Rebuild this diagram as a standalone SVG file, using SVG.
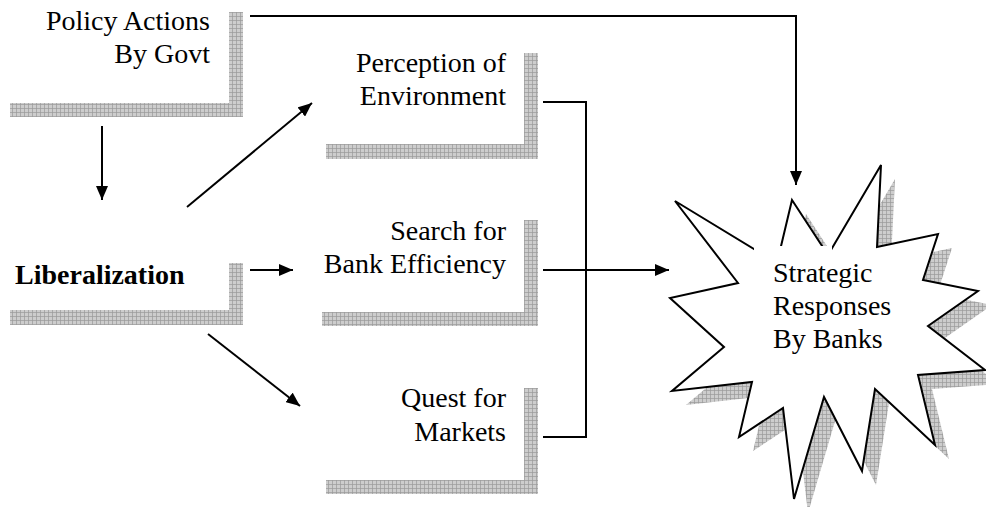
<svg xmlns="http://www.w3.org/2000/svg" width="986" height="507" viewBox="0 0 986 507">
<defs>
<pattern id="grid" width="4" height="4" patternUnits="userSpaceOnUse">
<rect width="4" height="4" fill="#cdcdcd"/>
<path d="M0,0.5H4M0.5,0V4" stroke="#9a9a9a" stroke-width="0.7" fill="none"/>
</pattern>
<marker id="ah" viewBox="0 0 14 12" refX="14" refY="6" markerWidth="14" markerHeight="12" markerUnits="userSpaceOnUse" orient="auto">
<path d="M0,0L14,6L0,12Z" fill="#000"/>
</marker>
<style>
.sh{fill:url(#grid);stroke:none}
.t{font-family:"Liberation Serif","Times New Roman",serif;font-size:28px;fill:#000}
.r{text-anchor:end}
.b{font-weight:bold}
.c{fill:none;stroke:#000;stroke-width:2}
.a{marker-end:url(#ah)}
</style>
</defs>
<rect width="986" height="507" fill="#fff"/>

<g id="policy">
<path class="sh" d="M229,12H243V117H10V103H229Z"/>
<text class="t r" x="210" y="30">Policy Actions</text>
<text class="t r" x="210" y="63">By Govt</text>
</g>

<g id="liberalization">
<path class="sh" d="M229,263H243V325H10V310H229Z"/>
<text class="t b" x="15" y="284">Liberalization</text>
</g>

<g id="perception">
<path class="sh" d="M524,53H538V159H326V144H524Z"/>
<text class="t r" x="506" y="72">Perception of</text>
<text class="t r" x="506" y="105">Environment</text>
</g>

<g id="search">
<path class="sh" d="M524,220H538V326H322V312H524Z"/>
<text class="t r" x="506" y="240">Search for</text>
<text class="t r" x="506" y="273">Bank Efficiency</text>
</g>

<g id="quest">
<path class="sh" d="M524,388H538V494H326V480H524Z"/>
<text class="t r" x="506" y="407">Quest for</text>
<text class="t r" x="506" y="441">Markets</text>
</g>

<g id="strategic">
<polygon class="sh" transform="translate(14,14)" points="792,200 828,255 881,165 877,247 938,234 923,280 978,291 928,326 985,370 918,375 935,445 875,389 862,471 824,397 794,499 783,408 739,437 752,382 672,391 724,347 670,298 738,283 675,201 777,263"/>
<polygon fill="#fff" stroke="#000" stroke-width="2" stroke-linejoin="miter" points="792,200 828,255 881,165 877,247 938,234 923,280 978,291 928,326 985,370 918,375 935,445 875,389 862,471 824,397 794,499 783,408 739,437 752,382 672,391 724,347 670,298 738,283 675,201 777,263"/>
<rect x="754" y="246" width="78" height="56" fill="#fff"/>
<text class="t" x="773" y="282">Strategic</text>
<text class="t" x="773" y="315">Responses</text>
<text class="t" x="773" y="348">By Banks</text>
</g>

<g id="connectors">
<path class="c a" d="M250,16H796V185"/>
<path class="c a" d="M102,126V200"/>
<path class="c a" d="M187,207L312,103"/>
<path class="c a" d="M250,270H293"/>
<path class="c a" d="M208,334L300,406"/>
<path class="c" d="M543,102H586V437H543"/>
<path class="c a" d="M543,270H669"/>
</g>
</svg>
